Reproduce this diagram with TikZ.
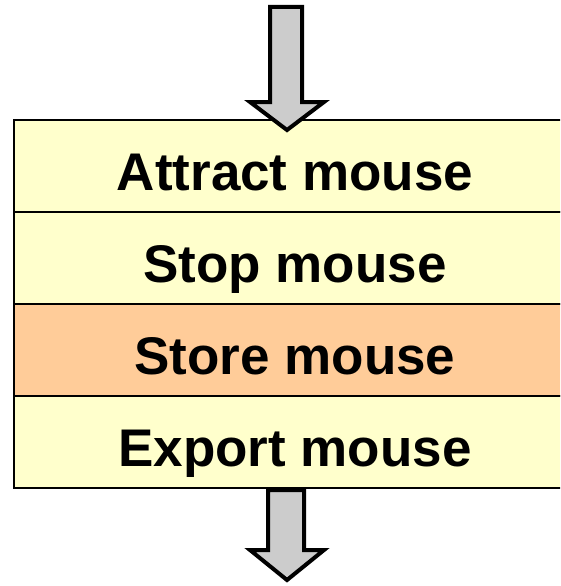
\documentclass[tikz,border=0pt]{standalone}
\usepackage{fontspec}
\setmainfont{Liberation Sans}
\definecolor{rowyellow}{RGB}{255,255,204}
\definecolor{roworange}{RGB}{255,204,153}
\definecolor{arrowgray}{RGB}{204,204,204}
\begin{document}
\begin{tikzpicture}[x=1pt,y=-1pt,
  rowframe/.style={draw=black,line width=2.5pt},
  rowlabel/.style={inner sep=0pt,anchor=base,font=\fontsize{53}{56}\selectfont\bfseries},
  flowarrow/.style={draw=black,line width=4pt,fill=arrowgray,line join=miter}]
\path[use as bounding box] (0,0) rectangle (560,586);
\begin{scope}
\clip (0,0) rectangle (560,586);
\filldraw[rowframe,fill=rowyellow] (14,120) rectangle (640,212);
\filldraw[rowframe,fill=rowyellow] (14,212) rectangle (640,304);
\filldraw[rowframe,fill=roworange] (14,304) rectangle (640,396);
\filldraw[rowframe,fill=rowyellow] (14,396) rectangle (640,488);
\node[rowlabel] (r1) at (295,190) {Attract mouse};
\node[rowlabel] (r2) at (295,282) {Stop mouse};
\node[rowlabel] (r3) at (295,374) {Store mouse};
\node[rowlabel] (r4) at (295,466) {Export mouse};
\draw[flowarrow] (270,7) -- (302,7) -- (302,102) -- (324,102) -- (287,130) -- (250,102) -- (270,102) -- cycle;
\draw[flowarrow] (268,490) -- (304,490) -- (304,550) -- (324,550) -- (287,580) -- (250,550) -- (268,550) -- cycle;
\end{scope}
\end{tikzpicture}
\end{document}
